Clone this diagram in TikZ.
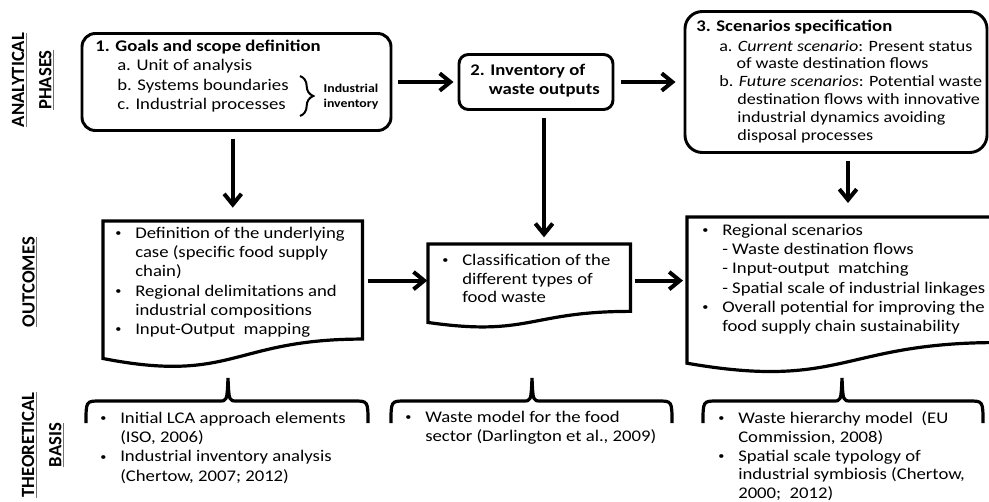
\documentclass[tikz,border=0pt]{standalone}
\usepackage{fontspec}
\setmainfont{Carlito}[FakeStretch=1.15]
\newfontfamily\sidefont{Carlito}
\usepackage{xcolor}
\usetikzlibrary{arrows.meta, calc, decorations.pathreplacing}

\newcommand{\bodyfont}{\fontsize{12.2}{14.4}\selectfont}
\newcommand{\bl}{\makebox[15pt][l]{\raisebox{0.1em}{\fontsize{8}{8}\selectfont\textbullet}}}
\newcommand{\ind}{\hspace*{15pt}}
\newcommand{\ul}[1]{{\color{black!55}\underline{\color{black}#1}}}
% wavy-bottom document outline drawn around an empty node
\newcommand{\docshape}[1]{%
  \draw[docline] (#1.north west) -- (#1.north east)
    -- ($(#1.south east)!0.198!(#1.north east)$)
    .. controls ($(#1.south)!0.198!(#1.north)$) and ($(#1.south)!-0.107!(#1.north)$)
    .. ($(#1.south west)!0.066!(#1.north west)$) -- cycle;}
% flat brace opening downwards: left end, tip, right end
\newcommand{\hbrace}[3]{%
  \draw[bracket] (#1,423) .. controls (#1,401) .. (#1+14,401) -- (#2-9,401)
    .. controls (#2-1,401) .. (#2,378) .. controls (#2+1,401) .. (#2+9,401)
    -- (#3-14,401) .. controls (#3,401) .. (#3,423);}

\tikzset{
  phase/.style={rectangle, draw=black, line width=2.2pt, inner sep=0pt},
  docbox/.style={rectangle, draw=none, inner sep=0pt, anchor=north west},
  docline/.style={draw=black, line width=2.4pt},
  bracket/.style={draw=black, line width=2.4pt},
  txt/.style={inner sep=0pt, align=left, anchor=north west, font=\bodyfont},
  title/.style={inner sep=0pt, anchor=west, font=\bodyfont\bfseries},
  sidelabel/.style={rotate=90, align=center, inner sep=0pt,
                    font=\sidefont\fontsize{14}{20.5}\selectfont\bfseries},
  arrow/.style={-{Straight Barb[length=8pt, width=13pt]}, draw=black, line width=3pt},
  curly/.style={decorate, decoration={brace, amplitude=#1}, draw=black, line width=1.5pt},
}

\begin{document}
\begin{tikzpicture}[x=0.75pt, y=-0.75pt]
  \useasboundingbox (0,0) rectangle (989,501);

  % Side labels
  \node[sidelabel] (analytical) at (33,80) {\ul{ANALYTICAL}\\\ul{PHASES}};
  \node[sidelabel] (outcomes) at (30,282) {\ul{OUTCOMES}};
  \node[sidelabel] (theory) at (43,445) {\ul{THEORETICAL}\\\ul{BASIS}};

  % Analytical phases
  \node[phase, minimum width=231.75pt, minimum height=72.75pt, rounded corners=10pt] (goals) at (236.5,82) {};
  \node[title] (goalsT) at (95,47) {1. Goals and scope definition};
  \node[txt, font=\fontsize{12.2}{14.6}\selectfont] (goalsL) at (117,59)
    {a. Unit of analysis\\b. Systems boundaries\\c. Industrial processes};
  \draw[curly=10pt] (300,76) -- (300,116);
  \node[align=center, inner sep=0pt, font=\fontsize{9}{11.25}\selectfont\bfseries] (indinv) at (351,96.5)
    {Industrial\\inventory};

  \node[phase, minimum width=115.5pt, minimum height=41.25pt, rounded corners=7pt] (inventory) at (536,82) {};
  \node[txt, font=\fontsize{12.2}{14.25}\selectfont\bfseries] (inventoryT) at (470,64)
    {2. Inventory of\\\phantom{2.\ }waste outputs};

  \node[phase, minimum width=226.5pt, minimum height=105.75pt, rounded corners=13pt] (scenarios) at (836,82) {};
  \node[title] (scenariosT) at (696,27) {3. Scenarios specification};
  \node[txt, font=\fontsize{11.8}{13.4}\selectfont] (scenariosL) at (719,40)
    {a. \textit{Current scenario}: Present status\\
     \phantom{a.\ }of waste destination flows\\
     b. \textit{Future scenarios}: Potential waste\\
     \phantom{b.\ }destination flows with innovative\\
     \phantom{b.\ }industrial dynamics avoiding\\
     \phantom{b.\ }disposal processes};

  % Outcomes
  \node[docbox, minimum width=194.25pt, minimum height=110pt] (casedef) at (103,221) {};
  \docshape{casedef}
  \node[txt] (casedefL) at (115,227)
    {\bl Definition of the underlying\\\ind case (specific food supply\\\ind chain)\\
     \bl Regional delimitations and\\\ind industrial compositions\\\bl Input-Output\ \ mapping};

  \node[docbox, minimum width=151.5pt, minimum height=62.6pt] (wasteclass) at (428,244) {};
  \docshape{wasteclass}
  \node[txt, font=\fontsize{12.2}{13.9}\selectfont] (wasteclassL) at (442,254)
    {\bl Classification of the\\\ind different types of\\\ind food waste};

  \node[docbox, minimum width=232.5pt, minimum height=117pt] (regional) at (687,217) {};
  \docshape{regional}
  \node[txt] (regionalL) at (702,224)
    {\bl Regional scenarios\\\ind - Waste destination flows\\\ind - Input-output\ \ matching\\
     \ind - Spatial scale of industrial linkages\\\bl Overall potential for improving the\\
     \ind food supply chain sustainability};

  % Theoretical basis
  \hbrace{86}{228}{368}
  \node[txt] (lca) at (100,412)
    {\bl Initial LCA approach elements\\\ind (ISO, 2006)\\\bl Industrial inventory analysis\\\ind (Chertow, 2007; 2012)};
  \hbrace{391}{532}{672}
  \node[txt] (wastemodel) at (405,411)
    {\bl Waste model for the food\\\ind sector (Darlington et al., 2009)};
  \hbrace{703}{842}{983}
  \node[txt, font=\fontsize{12.2}{14.2}\selectfont] (hierarchy) at (718,411)
    {\bl Waste hierarchy model\ \ (EU\\\ind Commission, 2008)\\\bl Spatial scale typology of\\
     \ind industrial symbiosis (Chertow,\\\ind 2000;\ \ 2012)};

  % Edges
  \draw[arrow, shorten <=4.5pt, shorten >=3pt] (goals) -- (inventory);
  \draw[arrow, shorten <=5pt, shorten >=6pt] (inventory) -- (scenarios);
  \draw[arrow, shorten <=5pt, shorten >=10pt] (goals.south -| casedef.north) -- (casedef.north);
  \draw[arrow, shorten <=5.5pt, shorten >=5pt] ([xshift=6pt]inventory.south) -- ([xshift=6pt]inventory.south |- wasteclass.north);
  \draw[arrow, shorten <=5.5pt, shorten >=10.5pt] ([xshift=9pt]scenarios.south) -- ([xshift=9pt]scenarios.south |- regional.north);
  \coordinate (mid) at ([yshift=10.5pt]casedef.east);
  \draw[arrow, shorten <=3.75pt, shorten >=0.5pt] (mid) -- (mid -| wasteclass.west);
  \draw[arrow, shorten <=3pt, shorten >=3pt] (mid -| wasteclass.east) -- (mid -| regional.west);
\end{tikzpicture}
\end{document}
